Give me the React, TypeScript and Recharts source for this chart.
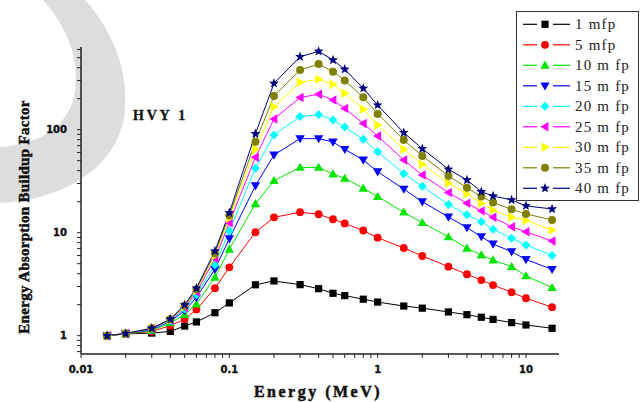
import React from 'react'
import { Legend, Line, LineChart, XAxis, YAxis } from 'recharts'

// photon energies (MeV)
const energy = [
  0.015, 0.02, 0.03, 0.04, 0.05, 0.06, 0.08, 0.1, 0.15, 0.2, 0.3, 0.4, 0.5, 0.6, 0.8, 1, 1.5, 2, 3, 4, 5, 6,
  8, 10, 15,
]

// EABF, one list per penetration depth
const mfp1 = [
  1.0, 1.04, 1.06, 1.1, 1.24, 1.36, 1.67, 2.08, 3.12, 3.4, 3.13, 2.86, 2.58, 2.45, 2.26, 2.12, 1.94, 1.85, 1.7,
  1.6, 1.51, 1.44, 1.34, 1.27, 1.18,
]
const mfp5 = [
  1.0, 1.04, 1.1, 1.25, 1.45, 1.8, 2.89, 4.61, 10.1, 14.1, 15.8, 15.1, 13.5, 12.3, 10.5, 8.94, 7.1, 5.94, 4.68,
  3.95, 3.47, 3.1, 2.64, 2.31, 1.89,
]
const mfp10 = [
  1.0, 1.04, 1.12, 1.33, 1.6, 2.03, 3.69, 6.9, 19.1, 32, 43, 43, 37.1, 33.7, 27, 22.4, 15.8, 12.5, 9.1, 7.06,
  6.07, 5.43, 4.68, 3.8, 2.93,
]
const mfp15 = [
  1.0, 1.05, 1.14, 1.38, 1.75, 2.35, 4.41, 8.74, 28.6, 56.8, 81.8, 81.8, 76, 64.5, 50.8, 39.1, 26.5, 20, 14.2,
  11.2, 9.15, 7.77, 6.54, 5.5, 4.4,
]
const mfp20 = [
  1.0, 1.05, 1.16, 1.4, 1.82, 2.5, 4.86, 10.4, 42.2, 88.9, 134, 140, 124, 106, 80.7, 61.1, 37.4, 28.2, 18.8,
  14.9, 12.8, 10.8, 8.83, 7.6, 6.0,
]
const mfp25 = [
  1.0, 1.05, 1.17, 1.42, 1.88, 2.65, 5.6, 12.5, 54, 127, 205, 221, 194, 161, 115, 86.9, 50.8, 36.3, 24.5, 19.3,
  16.3, 14.1, 11.4, 10.2, 8.3,
]
const mfp30 = [
  1.0, 1.05, 1.18, 1.43, 1.92, 2.75, 6.0, 13.8, 64.5, 167, 289, 308, 276, 226, 158, 111, 64.5, 46.1, 30.4, 23.8,
  19.3, 16.6, 14.1, 13.1, 10.6,
]
const mfp35 = [
  1.0, 1.05, 1.18, 1.44, 1.95, 2.82, 6.3, 14.7, 76.4, 212, 380, 434, 366, 300, 206, 142, 79.4, 55.6, 35.6, 27.3,
  22.4, 19.6, 16.9, 15.2, 13.3,
]
const mfp40 = [
  1.0, 1.05, 1.18, 1.45, 1.99, 2.89, 6.64, 15.6, 91.4, 282, 511, 577, 475, 386, 252, 173, 93.5, 65.4, 41.3, 32.5,
  25, 22.7, 20.8, 18.2, 17.0,
]

const xTicks = [
  0.01, 0.02, 0.03, 0.04, 0.05, 0.06, 0.07, 0.08, 0.09, 0.1, 0.2, 0.3, 0.4, 0.5, 0.6, 0.7, 0.8, 0.9, 1, 2, 3, 4,
  5, 6, 7, 8, 9, 10,
]
const yTicks = [
  0.7, 0.8, 0.9, 1, 2, 3, 4, 5, 6, 7, 8, 9, 10, 20, 30, 40, 50, 60, 70, 80, 90, 100, 200, 300, 400, 500, 600,
]
const majors = [0.01, 0.1, 1, 10, 100]

type Shape = 'square' | 'circle' | 'up' | 'down' | 'diamond' | 'left' | 'right' | 'hex' | 'star'

const series: { key: string; name: string; color: string; shape: Shape; values: number[] }[] = [
  { key: 'm1', name: '1 mfp', color: '#000000', shape: 'square', values: mfp1 },
  { key: 'm5', name: '5 mfp', color: '#ff0000', shape: 'circle', values: mfp5 },
  { key: 'm10', name: '10 m fp', color: '#00e600', shape: 'up', values: mfp10 },
  { key: 'm15', name: '15 m fp', color: '#0000ff', shape: 'down', values: mfp15 },
  { key: 'm20', name: '20 m fp', color: '#00ffff', shape: 'diamond', values: mfp20 },
  { key: 'm25', name: '25 m fp', color: '#ff00ff', shape: 'left', values: mfp25 },
  { key: 'm30', name: '30 m fp', color: '#ffff00', shape: 'right', values: mfp30 },
  { key: 'm35', name: '35 m fp', color: '#808000', shape: 'hex', values: mfp35 },
  { key: 'm40', name: '40 m fp', color: '#000080', shape: 'star', values: mfp40 },
]

const data = energy.map((e, i) => {
  const row: Record<string, number> = { e }
  series.forEach((s) => {
    row[s.key] = s.values[i]
  })
  return row
})

function pts(list: number[][]) {
  return list.map((p) => p.join(',')).join(' ')
}

function Marker({ cx, cy, shape, color }: { cx: number; cy: number; shape: Shape; color: string }) {
  const r = 4.2
  switch (shape) {
    case 'square':
      return <rect x={cx - 3.6} y={cy - 3.6} width={7.2} height={7.2} fill={color} />
    case 'circle':
      return <circle cx={cx} cy={cy} r={3.9} fill={color} />
    case 'hex':
      return <circle cx={cx} cy={cy} r={4} fill={color} />
    case 'up':
      return <polygon points={pts([[cx, cy - r - 0.5], [cx + r + 0.5, cy + r - 0.8], [cx - r - 0.5, cy + r - 0.8]])} fill={color} />
    case 'down':
      return <polygon points={pts([[cx - r - 0.5, cy - r + 0.8], [cx + r + 0.5, cy - r + 0.8], [cx, cy + r + 0.5]])} fill={color} />
    case 'left':
      return <polygon points={pts([[cx - r - 0.5, cy], [cx + r - 0.8, cy - r - 0.5], [cx + r - 0.8, cy + r + 0.5]])} fill={color} />
    case 'right':
      return <polygon points={pts([[cx + r + 0.5, cy], [cx - r + 0.8, cy - r - 0.5], [cx - r + 0.8, cy + r + 0.5]])} fill={color} />
    case 'diamond':
      return <polygon points={pts([[cx, cy - r - 0.3], [cx + r + 0.3, cy], [cx, cy + r + 0.3], [cx - r - 0.3, cy]])} fill={color} />
    case 'star': {
      const p: number[][] = []
      for (let k = 0; k < 10; k++) {
        const rad = k % 2 === 0 ? 5.2 : 2.2
        const a = -Math.PI / 2 + (k * Math.PI) / 5
        p.push([cx + rad * Math.cos(a), cy + rad * Math.sin(a)])
      }
      return <polygon points={pts(p)} fill={color} />
    }
  }
  return null
}

const tickFont = {
  fontFamily: 'DejaVu Sans',
  fontWeight: 700,
  fontSize: 10,
  fill: '#111',
  stroke: '#111',
  strokeWidth: 0.4,
}

function LegendBox() {
  return (
    <div
      style={{
        boxSizing: 'border-box',
        width: 123,
        height: 190,
        border: '1.5px solid #333',
        background: '#fff',
      }}
    >
      <svg width={120} height={187} style={{ display: 'block' }}>
        {series.map((s, i) => {
          const y = 12.3 + i * 20.5
          return (
            <g key={s.key}>
              <line x1={6} x2={20} y1={y} y2={y} stroke={s.color} strokeWidth={1.2} />
              <line x1={36} x2={53} y1={y} y2={y} stroke={s.color} strokeWidth={1.2} />
              <Marker cx={28} cy={y} shape={s.shape} color={s.color} />
              <text
                x={58}
                y={y}
                dominantBaseline="central"
                fontFamily="Liberation Serif"
                fontSize={15}
                letterSpacing={1.2}
                fill="#222"
              >
                {s.name}
              </text>
            </g>
          )
        })}
      </svg>
    </div>
  )
}

export default function App() {
  return (
    <div style={{ position: 'absolute', left: 0, top: 0, width: 643, height: 402, background: '#fff' }}>
      <svg width={643} height={402} style={{ position: 'absolute', left: 0, top: 0 }}>
        <path
          d="M43 0 L85 0 C108 25, 128 65, 125 105 C125 150, 85 198, 0 203 L0 147 C40 145, 70 125, 75 92 C80 55, 65 25, 43 0 Z"
          fill="#dddddd"
        />
        <text
          x={133}
          y={120}
          fontFamily="Liberation Serif"
          fontWeight={700}
          fontSize={14}
          letterSpacing={2.8}
          fill="#111"
          stroke="#111"
          strokeWidth={0.3}
        >
          HVY 1
        </text>
      </svg>
      <div style={{ position: 'absolute', left: 0, top: 0 }}>
        <LineChart width={643} height={402} data={data} margin={{ top: 47, right: 84, bottom: 0, left: 0 }}>
          <XAxis
            dataKey="e"
            type="number"
            scale="log"
            domain={[0.01, 16.7]}
            allowDataOverflow
            ticks={xTicks}
            interval={0}
            height={48}
            tickSize={4}
            tickMargin={8}
            tick={tickFont}
            tickFormatter={(v: number) => (majors.includes(v) ? String(v) : '')}
            axisLine={{ stroke: '#222', strokeWidth: 1.5 }}
            tickLine={{ stroke: '#222' }}
            label={() => (
              <text
                x={318}
                y={397}
                textAnchor="middle"
                fontFamily="Liberation Serif"
                fontWeight={700}
                fontSize={16}
                letterSpacing={2.5}
                fill="#111"
                stroke="#111"
                strokeWidth={0.5}
              >
                Energy (MeV)
              </text>
            )}
          />
          <YAxis
            type="number"
            scale="log"
            domain={[0.664, 635]}
            allowDataOverflow
            ticks={yTicks}
            interval={0}
            width={81}
            tickSize={4}
            tickMargin={10}
            tick={tickFont}
            tickFormatter={(v: number) => (majors.includes(v) ? String(v) : '')}
            axisLine={{ stroke: '#222', strokeWidth: 1.5 }}
            tickLine={{ stroke: '#222' }}
            label={() => (
              <text
                transform="translate(29,217) rotate(-90)"
                textAnchor="middle"
                fontFamily="Liberation Serif"
                fontWeight={700}
                fontSize={15}
                letterSpacing={0.3}
                fill="#111"
                stroke="#111"
                strokeWidth={0.5}
              >
                Energy Absorption Buildup Factor
              </text>
            )}
          />
          <Legend
            layout="horizontal"
            verticalAlign="middle"
            align="center"
            wrapperStyle={{ left: 516, top: 11, width: 123, height: 190 }}
            content={() => <LegendBox />}
          />
          {series.map((s) => (
            <Line
              key={s.key}
              dataKey={s.key}
              name={s.name}
              type="linear"
              stroke={s.color}
              strokeWidth={1}
              isAnimationActive={false}
              dot={(p: any) => <Marker key={`${s.key}-${p.index}`} cx={p.cx} cy={p.cy} shape={s.shape} color={s.color} />}
              activeDot={false}
            />
          ))}
        </LineChart>
      </div>
    </div>
  )
}
